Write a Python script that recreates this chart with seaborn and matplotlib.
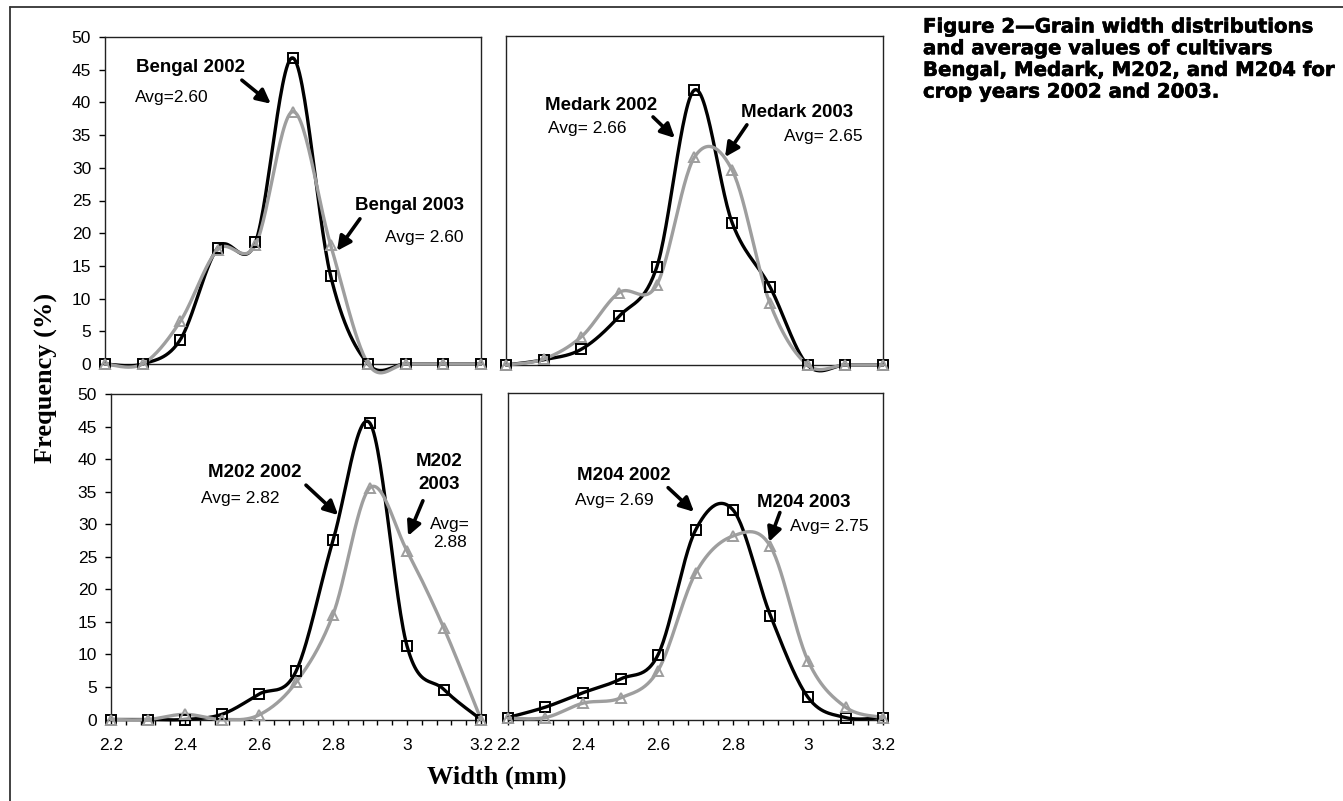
import numpy as np
import matplotlib
matplotlib.use("Agg")
import matplotlib.pyplot as plt
import matplotlib.patheffects as pe
import seaborn as sns
from matplotlib.lines import Line2D
from matplotlib.ticker import FixedLocator, MultipleLocator, FuncFormatter

# --- Data (frequency %, per width class in mm) ---
width = [2.2, 2.3, 2.4, 2.5, 2.6, 2.7, 2.8, 2.9, 3.0, 3.1, 3.2]

bengal_2002 = [0, 0, 3.7, 17.8, 18.6, 46.8, 13.5, 0, 0, 0, 0]
bengal_2003 = [0, 0, 6.5, 17.5, 18.2, 38.6, 18.2, 0, 0, 0, 0]
medark_2002 = [0, 0.8, 2.4, 7.4, 14.9, 41.8, 21.6, 11.9, 0, 0, 0]
medark_2003 = [0, 0.9, 4.3, 11.0, 12.2, 31.6, 29.6, 9.4, 0, 0, 0]
m202_2002 = [0, 0, 0, 0.8, 3.9, 7.4, 27.5, 45.5, 11.3, 4.6, 0]
m202_2003 = [0, 0, 0.8, 0, 0.7, 5.7, 16.1, 35.6, 25.9, 14.0, 0]
m204_2002 = [0.3, 1.9, 4.1, 6.2, 9.9, 29.0, 32.1, 15.9, 3.4, 0.3, 0.3]
m204_2003 = [0.2, 0.3, 2.5, 3.3, 7.5, 22.4, 28.1, 26.5, 9.0, 1.9, 0.3]

y_ticks = [0, 5, 10, 15, 20, 25, 30, 35, 40, 45, 50]
x_ticks = [2.2, 2.4, 2.6, 2.8, 3.0, 3.2]

caption = ["Figure 2\u2014Grain width distributions",
           "and average values of cultivars",
           "Bengal, Medark, M202, and M204 for",
           "crop years 2002 and 2003."]

GRAY = "#9e9e9e"
W, H = 1343, 801


def smooth(x, y, n=30):
    # Excel-style smoothed line: Catmull-Rom bezier through the points
    p = np.column_stack([x, y]).astype(float)
    p = np.vstack([p[0], p, p[-1]])
    xs, ys = [], []
    t = np.linspace(0, 1, n)[:, None]
    for i in range(1, len(p) - 2):
        p0, p1, p2, p3 = p[i - 1], p[i], p[i + 1], p[i + 2]
        c1 = p1 + (p2 - p0) / 6
        c2 = p2 - (p3 - p1) / 6
        b = ((1 - t) ** 3) * p1 + 3 * ((1 - t) ** 2) * t * c1 + 3 * (1 - t) * t ** 2 * c2 + t ** 3 * p2
        xs.extend(b[:, 0])
        ys.extend(b[:, 1])
    return np.array(xs), np.array(ys)


def px_box(l, r, t, b):
    return [l / W, 1 - b / H, (r - l) / W, (b - t) / H]


sns.set_style("white")
plt.rcParams["font.family"] = ["Liberation Sans", "DejaVu Sans"]
plt.rcParams.update({"text.color": "black", "axes.labelcolor": "black",
                     "xtick.color": "black", "ytick.color": "black"})

fig = plt.figure(figsize=(W / 100, H / 100), dpi=100)

panels = [
    dict(box=px_box(105, 481, 37, 364), s02=bengal_2002, s03=bengal_2003, left=True, bottom=False,
         notes=[("Bengal 2002", 2.282, 45.3, True), ("Avg=2.60", 2.28, 40.7, False),
                ("Bengal 2003", 2.865, 24.3, True), ("Avg= 2.60", 2.945, 19.4, False)],
         arrows=[((2.564, 43.4), (2.641, 39.8)), ((2.878, 22.2), (2.817, 17.3))]),
    dict(box=px_box(506, 883, 36, 365), s02=medark_2002, s03=medark_2003, left=False, bottom=False,
         notes=[("Medark 2002", 2.303, 39.4, True), ("Avg= 2.66", 2.311, 35.9, False),
                ("Medark 2003", 2.823, 38.3, True), ("Avg= 2.65", 2.937, 34.7, False)],
         arrows=[((2.590, 37.7), (2.648, 34.5)), ((2.839, 36.5), (2.781, 31.6))]),
    dict(box=px_box(111, 481, 394, 719.5), s02=m202_2002, s03=m202_2003, left=True, bottom=True,
         notes=[("M202 2002", 2.462, 37.9, True), ("Avg= 2.82", 2.443, 34.0, False)],
         arrows=[((2.727, 36.0), (2.814, 31.4)), ((3.043, 33.6), (3.003, 28.2))]),
    dict(box=px_box(508, 883, 393, 719.5), s02=m204_2002, s03=m204_2003, left=False, bottom=True,
         notes=[("M204 2002", 2.384, 37.4, True), ("Avg= 2.69", 2.379, 33.5, False),
                ("M204 2003", 2.864, 33.2, True), ("Avg= 2.75", 2.952, 29.5, False)],
         arrows=[((2.627, 35.5), (2.696, 31.8)), ((2.925, 31.7), (2.896, 27.2))]),
]

axes = []
for p in panels:
    ax = fig.add_axes(p["box"])
    axes.append(ax)
    for vals, col, mk, z in [(p["s02"], "black", "s", 3), (p["s03"], GRAY, "^", 4)]:
        sx, sy = smooth(width, vals)
        sns.lineplot(x=sx, y=sy, ax=ax, color=col, linewidth=2.4, estimator=None,
                     sort=False, clip_on=False, zorder=z)
        sns.lineplot(x=width, y=vals, ax=ax, color=col, marker=mk, linestyle="none",
                     markersize=6.5 if mk == "s" else 7, markerfacecolor="none",
                     markeredgecolor=col, markeredgewidth=1.4, estimator=None,
                     sort=False, clip_on=False, zorder=z + 2)
    ax.set_xlim(2.2, 3.2)
    ax.set_ylim(0, 50)
    ax.set_xlabel("")
    ax.set_ylabel("")
    for sp in ax.spines.values():
        sp.set_visible(True)
        sp.set_color("#222222")
        sp.set_linewidth(1.0)

    if p["left"]:
        ax.yaxis.set_major_locator(FixedLocator(y_ticks))
        ax.tick_params(axis="y", direction="out", length=4, width=1, labelsize=12.5, pad=6, left=True)
    else:
        ax.set_yticks([])

    if p["bottom"]:
        ax.xaxis.set_major_locator(FixedLocator(x_ticks))
        ax.xaxis.set_minor_locator(MultipleLocator(0.04))
        ax.xaxis.set_major_formatter(FuncFormatter(lambda v, _: f"{v:g}"))
        ax.tick_params(axis="x", which="both", direction="out", length=3.3, width=1,
                       labelsize=12.5, pad=10, bottom=True)
    else:
        ax.set_xticks([])

    for txt, x, y, bold in p["notes"]:
        ax.text(x, y, txt, ha="left", va="center", fontsize=13.5 if bold else 12.5,
                fontweight="bold" if bold else "normal", zorder=10)
    for (x0, y0), (x1, y1) in p["arrows"]:
        ax.annotate("", xy=(x1, y1), xytext=(x0, y0),
                    arrowprops=dict(arrowstyle="-|>,head_length=0.7,head_width=0.35",
                                    lw=2.6, color="black", shrinkA=0, shrinkB=0,
                                    mutation_scale=12), zorder=10)

# M202 2003 label is stacked on two lines
axes[2].text(3.086, 37.9, "M202\n2003", ha="center", va="center", fontsize=13.5,
             fontweight="bold", linespacing=1.5)
axes[2].text(3.116, 28.5, "Avg=\n2.88", ha="center", va="center", fontsize=12.5,
             linespacing=1.25)

fig.text(46 / W, 1 - 378 / H, "Frequency (%)", rotation=90, ha="center", va="center",
         fontsize=19, fontweight="bold", family="Liberation Serif")
fig.text(497 / W, 1 - 777 / H, "Width (mm)", ha="center", va="center",
         fontsize=19, fontweight="bold", family="Liberation Serif")

heavy = [pe.withStroke(linewidth=0.45, foreground="black")]
for i, line in enumerate(caption):
    fig.text(923 / W, 1 - (27 + 21.7 * i) / H, line, ha="left", va="center",
             fontsize=14.2, fontweight="bold", family="DejaVu Sans", path_effects=heavy)

# page frame (top and left rules)
fig.add_artist(Line2D([10 / W, 1], [1 - 7 / H, 1 - 7 / H], transform=fig.transFigure,
                      color="#333333", lw=1.3))
fig.add_artist(Line2D([10 / W, 10 / W], [0, 1 - 7 / H], transform=fig.transFigure,
                      color="#333333", lw=1.3))

fig.savefig("out.png", dpi=100, facecolor="white")
